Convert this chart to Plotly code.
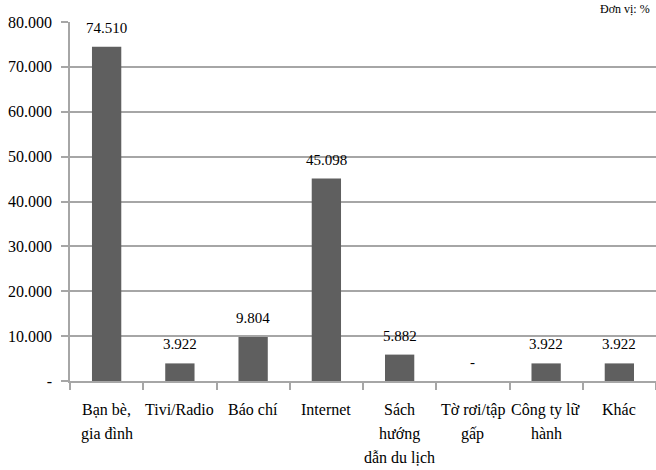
import plotly.graph_objects as go

categories = ["Bạn bè,<br>gia đình", "Tivi/Radio", "Báo chí", "Internet",
              "Sách<br>hướng<br>dẫn du lịch", "Tờ rơi/tập<br>gấp",
              "Công ty lữ<br>hành", "Khác"]
values = [74.510, 3.922, 9.804, 45.098, 5.882, 0.0, 3.922, 3.922]
y_ticks = [0, 10, 20, 30, 40, 50, 60, 70, 80]


def fmt(v):
    return "-" if v == 0 else f"{v:.3f}"


font_family = "Liberation Serif"
bar_color = "#5f5f5f"
line_color = "#a6a6a6"

fig = go.Figure(go.Bar(
    x=categories,
    y=values,
    marker=dict(color=bar_color, line=dict(width=0)),
    width=0.4,
))

# value labels above each bar
for cat, v in zip(categories, values):
    fig.add_annotation(
        x=cat, y=v, xref="x", yref="y",
        text=fmt(v), showarrow=False,
        yanchor="bottom", yshift=9,
        font=dict(family=font_family, size=15, color="black"),
    )

# category names under the axis, one line at a time for wider line spacing
for cat in categories:
    for i, line in enumerate(cat.split("<br>")):
        fig.add_annotation(
            x=cat, y=0, xref="x", yref="y",
            text=line, showarrow=False,
            yanchor="top", yshift=-18 - 24 * i,
            font=dict(family=font_family, size=16, color="black"),
        )

# unit note in the top-right corner
fig.add_annotation(
    x=1, y=1, xref="paper", yref="paper",
    text="Đơn vị: %", showarrow=False,
    xanchor="right", yanchor="top", xshift=-4, yshift=22,
    font=dict(family=font_family, size=12, color="black"),
)

fig.update_layout(
    width=656, height=470,
    margin=dict(l=70, r=0, t=22, b=89),
    paper_bgcolor="white",
    plot_bgcolor="white",
    showlegend=False,
    font=dict(family=font_family, size=16, color="black"),
    bargap=0.6,
)

fig.update_xaxes(
    type="category",
    automargin=False,
    showticklabels=False,
    showline=True, linecolor=line_color, linewidth=1.5,
    ticks="outside", tickson="boundaries", ticklen=7,
    tickcolor=line_color, tickwidth=1.5,
    showgrid=False,
)

fig.update_yaxes(
    range=[0, 80],
    automargin=False,
    tickvals=y_ticks,
    ticktext=[fmt(t) for t in y_ticks],
    showline=True, linecolor=line_color, linewidth=1.5,
    ticks="outside", ticklen=7, tickcolor=line_color, tickwidth=1.5,
    showgrid=True, gridcolor=line_color, gridwidth=1.5,
    zeroline=False,
    tickfont=dict(family=font_family, size=16, color="black"),
    ticklabelstandoff=6,
)

fig.write_html("out.html")
